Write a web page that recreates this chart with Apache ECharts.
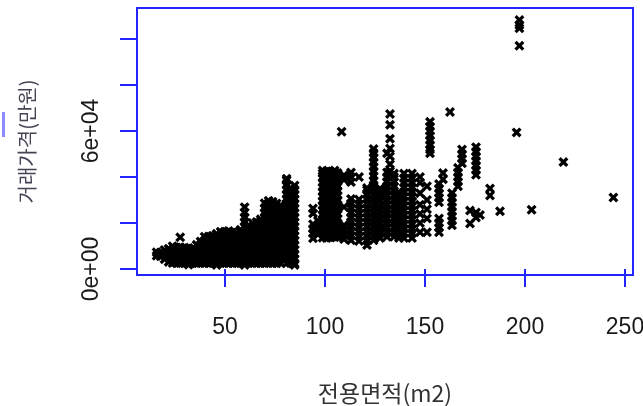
<!DOCTYPE html>
<html>
<head>
<meta charset="utf-8">
<script src="https://cdn.jsdelivr.net/npm/echarts@6/dist/echarts.min.js"></script>
<style>
  html, body { margin: 0; padding: 0; background: #ffffff; }
  #chart { width: 643px; height: 406px; }
</style>
</head>
<body>
<div id="chart"></div>
<script>
// 전용면적(m2) of each group of transactions
const areaCols = [
  15.8, 17.8, 19.8, 21.8, 23.8, 25.8, 27.6, 29.8, 31.8, 33.8,
  35.8, 37.8, 39.8, 41.8, 43.8, 45.8, 47.8, 49.8, 51.8, 53.8,
  55.8, 57.8, 59.8, 61.8, 63.8, 65.8, 67.8, 69.8, 71.8, 73.8,
  75.8, 77.8, 80.8, 82.8, 84.8,
  94, 96.5, 98.8, 100.8, 102.8, 104.8, 106.3, 108.3, 109.5, 113,
  117, 121, 124.3, 127.5, 131, 132.5, 134.5, 137, 139.5, 143.5,
  147.5, 151, 152.5, 157, 159, 162.5, 163.5, 166.5, 168.5, 172.5,
  175.5, 177.5, 182.5, 187.5, 195.8, 197.2, 203.3, 219.2, 244.2
];

// 거래가격(만원) of the transactions in each group, same order as areaCols
const priceCols = [
  [5800, 7300],
  [5500, 7200],
  [4300, 6200, 8300],
  [3100, 5000, 7000, 8800],
  [2600, 4500, 6400, 8300, 9900],
  [2500, 4400, 6300, 8200, 9400],
  [2600, 4600, 6500, 8400, 9500, 13800],
  [2500, 4400, 6300, 8200, 9300],
  [1900, 2600, 4500, 6400, 8300, 9100],
  [2500, 4400, 6300, 8200, 8900],
  [2500, 4500, 6500, 8500, 10500],
  [2600, 4600, 6600, 8600, 10500, 12000],
  [2500, 4500, 6500, 8500, 10400, 12300, 14000],
  [2500, 4400, 6400, 8400, 10300, 12200, 14100],
  [2600, 4600, 6600, 8600, 10600, 12600, 14500],
  [1800, 2500, 4500, 6500, 8500, 10500, 12500, 14400, 15300],
  [2500, 4500, 6400, 8400, 10400, 12400, 14300, 16200],
  [2600, 4600, 6600, 8600, 10600, 12500, 14400, 16200],
  [2500, 4500, 6500, 8500, 10500, 12500, 14500, 16500],
  [2500, 4400, 6400, 8400, 10400, 12300, 14200, 16000],
  [2600, 4600, 6600, 8500, 10400, 12300, 14100, 15800],
  [2500, 4500, 6500, 8500, 10500, 12500, 14500, 16500, 17100],
  [1800, 2500, 4500, 6500, 8500, 10500, 12500, 14500, 16500, 18500, 20500, 22500, 24600, 26900],
  [2500, 4500, 6500, 8500, 10500, 12500, 14500, 16500, 18500],
  [2600, 4600, 6600, 8600, 10600, 12600, 14600, 16600, 18400, 20000],
  [2500, 4500, 6500, 8500, 10500, 12500, 14500, 16500, 18500, 20500],
  [2500, 4500, 6500, 8500, 10500, 12500, 14500, 16500, 18500, 20500, 21600],
  [2500, 4500, 6500, 8500, 10500, 12500, 14500, 16500, 18500, 20500, 22500, 24500, 26500, 28600],
  [2600, 4600, 6600, 8600, 10600, 12600, 14600, 16600, 18600, 20600, 22600, 24600, 26600, 28600, 29700],
  [2500, 4500, 6500, 8500, 10500, 12500, 14500, 16500, 18500, 20500, 22500, 24500, 26500, 28400, 29300],
  [2500, 4500, 6500, 8500, 10500, 12500, 14500, 16500, 18500, 20500, 22500, 24500, 26500, 28500],
  [2600, 4600, 6600, 8600, 10600, 12600, 14600, 16600, 18600, 20600, 22600, 24600, 26600, 27700],
  [2500, 4500, 6500, 8500, 10500, 12500, 14500, 16500, 18500, 20500, 22500, 24500, 26500, 28500, 30500, 32500, 34500, 36500, 38500, 39300],
  [2600, 4600, 6600, 8600, 10600, 12600, 14600, 16600, 18600, 20600, 22600, 24600, 26600, 28600, 30600, 32600, 34600, 35200],
  [1800, 2500, 4500, 6500, 8500, 10500, 12500, 14500, 16500, 18500, 20500, 22500, 24500, 26500, 28500, 30500, 32500, 34500, 36300],
  [13400, 15500, 17500, 19500, 24200, 26300],
  [15000, 17000, 19000, 21000],
  [13600, 15600, 17600, 19600, 21600, 23600, 25600, 27600, 29600, 31600, 33600, 35600, 37600, 39600, 41600, 42800],
  [13500, 15500, 17500, 19500, 21500, 23500, 25500, 27500, 29500, 31500, 33500, 35500, 37500, 39500, 41500, 42500],
  [13700, 15700, 17700, 19700, 21700, 23700, 25700, 27700, 29700, 31700, 33700, 35700, 37700, 39700, 41700, 42300],
  [13800, 15800, 17800, 19800, 21800, 23800, 25800, 27800, 29800, 31800, 33800, 35800, 37800, 39800, 41800, 42800],
  [14000, 16000, 18000, 20000, 22000, 24000, 26000, 28000, 30000, 32000, 34000, 36000, 38000, 40000, 41800],
  [59700],
  [13000, 15000, 17000, 19000, 27000, 38800, 40800],
  [12500, 14500, 16500, 18500, 20500, 22500, 24500, 26500, 28500, 30500, 37800, 40000, 42000],
  [12200, 14200, 16200, 18200, 20200, 22200, 24200, 26200, 28200, 30200, 40000],
  [10400, 12400, 14400, 16400, 18400, 20400, 22400, 24400, 26400, 28400, 30400, 32400, 34400, 35200],
  [12500, 14500, 16500, 18500, 20500, 22500, 24500, 26500, 28500, 30500, 32500, 34500, 36500, 38500, 40500, 42500, 44500, 46500, 48500, 50500, 52200],
  [13500, 15500, 17500, 19500, 21500, 23500, 25500, 27500, 29500, 31500, 33500, 35000],
  [14000, 16000, 18000, 20000, 22000, 24000, 26000, 28000, 30000, 32000, 34000, 36000, 38000, 40000, 42000, 50300],
  [42500, 45600, 49000, 52400, 56700, 62700, 67400],
  [14000, 16000, 18000, 20000, 22000, 24000, 26000, 28000, 30000, 32000, 34000, 36000, 38000, 40000, 41500],
  [13500, 15500, 17500, 19500, 21500, 23500, 25500, 27500, 29500, 31500, 33300],
  [13500, 15500, 17500, 19500, 21500, 23500, 25500, 27500, 29500, 31500, 33500, 35500, 37500, 39500, 41500],
  [13500, 15500, 17500, 19500, 21500, 23500, 25500, 27500, 29500, 31500, 33500, 35500, 37500, 39500, 41500],
  [16000, 20000, 24000, 28000, 33000, 37500, 40000],
  [16000, 22000, 26000, 30000, 36000],
  [50300, 52000, 54000, 56000, 58000, 60000, 62000, 64000],
  [16000, 18000, 20000, 22000, 29000, 31000, 33000, 35000, 37000],
  [39000, 41700],
  [68300],
  [19000, 21000, 23000, 25000, 27000, 29000, 31000, 33000],
  [36000, 38000, 40000, 42000, 44000],
  [46000, 48000, 50000, 52000],
  [19800, 25400],
  [22400, 24600, 41000, 43000, 45000, 47000, 49000, 51000, 53000],
  [23500],
  [32000, 35000],
  [25100],
  [59400],
  [97100, 104700, 106100, 108300],
  [25800],
  [46500],
  [31100]
];

const xTicks = [50, 100, 150, 200, 250];
const yTicks = [0, 20000, 40000, 60000, 80000, 100000];
const yLabelTicks = [0, 60000];

// plotting region limits (data range widened by 4% on each side)
const xLim = [6, 254];
const yLim = [-2600, 113500];

const points = [];
areaCols.forEach((a, i) => {
  priceCols[i].forEach(p => points.push([a, p]));
});

// R-style scientific tick labels, e.g. 6e+04
function sci(v) {
  const parts = Number(v).toExponential(0).split('e');
  const exp = parts[1];
  const sign = exp[0] === '-' ? '-' : '+';
  const digits = String(Math.abs(parseInt(exp, 10))).padStart(2, '0');
  return parts[0] + 'e' + sign + digits;
}

const BLUE = '#2424ff';
// bold "x" plotting symbol
const CROSS = 'path://M0,2.3L2.3,0L5,2.7L7.7,0L10,2.3L7.3,5L10,7.7L7.7,10L5,7.3L2.3,10L0,7.7L2.7,5Z';

const chart = echarts.init(document.getElementById('chart'), null, { renderer: 'canvas' });
chart.setOption({
  animation: false,
  backgroundColor: '#ffffff',
  grid: {
    left: 137, top: 8, width: 496, height: 267,
    containLabel: false,
    outerBoundsMode: 'none',
    show: true, borderColor: BLUE, borderWidth: 2, backgroundColor: 'transparent'
  },
  xAxis: {
    type: 'value',
    min: xLim[0], max: xLim[1],
    splitLine: { show: false },
    axisLine: { show: false },
    axisTick: {
      show: true, customValues: xTicks, length: 18, inside: false,
      lineStyle: { color: BLUE, width: 2 }
    },
    axisLabel: {
      customValues: xTicks, margin: 41,
      fontFamily: 'Liberation Sans, Arial, sans-serif', fontSize: 23, color: '#1a1a1a'
    },
    name: '전용면적(m2)',
    nameLocation: 'middle',
    nameGap: 107,
    nameTextStyle: {
      fontFamily: 'Noto Sans CJK KR, sans-serif', fontSize: 23, color: '#333333'
    }
  },
  yAxis: {
    type: 'value',
    min: yLim[0], max: yLim[1],
    splitLine: { show: false },
    axisLine: { show: false },
    axisTick: {
      show: true, customValues: yTicks, length: 17, inside: false,
      lineStyle: { color: BLUE, width: 2 }
    },
    axisLabel: {
      customValues: yLabelTicks, rotate: 90, margin: 34,
      formatter: sci,
      fontFamily: 'Liberation Sans, Arial, sans-serif', fontSize: 23, color: '#1a1a1a'
    },
    name: '거래가격(만원)',
    nameLocation: 'middle',
    nameGap: 100,
    nameRotate: 90,
    nameTextStyle: {
      fontFamily: 'Noto Sans CJK KR, sans-serif', fontSize: 20, color: '#444455'
    }
  },
  graphic: [{
    type: 'rect',
    shape: { x: 2, y: 112, width: 3, height: 25 },
    style: { fill: '#8c8cff' }
  }],
  series: [{
    type: 'scatter',
    data: points,
    symbol: CROSS,
    symbolSize: 10,
    itemStyle: { color: '#000000', opacity: 1 },
    emphasis: { disabled: true },
    clip: true
  }]
});
</script>
</body>
</html>
